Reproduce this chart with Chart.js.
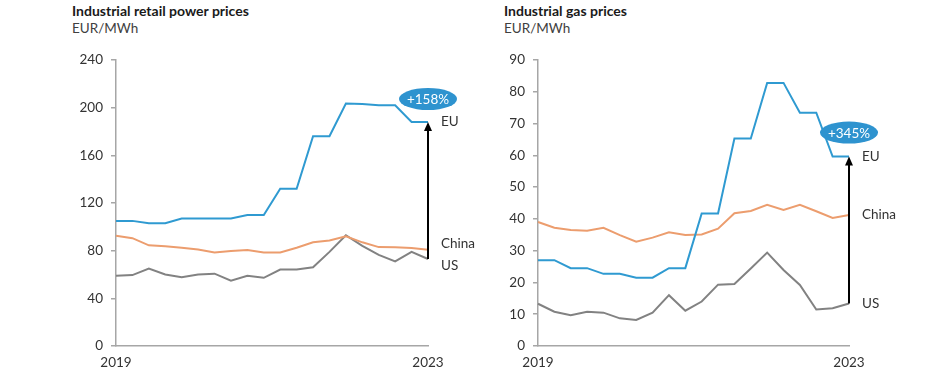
<!DOCTYPE html>
<html><head><meta charset="utf-8">
<script src="https://cdn.jsdelivr.net/npm/chart.js@4"></script>
<style>
html,body{margin:0;padding:0;background:#fff;width:945px;height:376px;overflow:hidden;font-family:Lato,"Open Sans",sans-serif;}
.t{position:absolute;font-size:14px;color:#1a1a1a;font-weight:bold;white-space:nowrap;}
.u{position:absolute;font-size:13.5px;color:#404040;white-space:nowrap;}
#c1{position:absolute;left:0;top:0;}
#c2{position:absolute;left:472px;top:0;}
</style></head><body>
<div class="t" style="left:72px;top:2px">Industrial retail power prices</div>
<div class="u" style="left:72px;top:20px">EUR/MWh</div>
<div class="t" style="left:504px;top:2px">Industrial gas prices</div>
<div class="u" style="left:504px;top:20px">EUR/MWh</div>
<canvas id="c1" width="500" height="376"></canvas>
<canvas id="c2" width="473" height="376"></canvas>
<script>
// 20 quarterly observations, 2019 .. 2023
const categories = ['2019','','','','','','','','','','','','','','','','','','','2023'];

// Industrial retail power prices, EUR/MWh
const powerEU    = [105,105,103,103,107,107,107,107,110,110,132,132,176,176,203.5,203,202,202,188,188];
const powerChina = [92.5,90.5,84.5,83.8,82.5,81,78.5,79.8,80.5,78.5,78.5,82.5,87,88.5,92,87,83,82.8,82.2,80.8];
const powerUS    = [59,59.5,65,60,57.8,60,60.7,54.8,59,57.2,64.2,64.2,66,79,93,84,76.4,71,79,73];

// Industrial gas prices, EUR/MWh
const gasEU    = [27,27,24.5,24.5,22.7,22.7,21.5,21.5,24.5,24.5,41.7,41.7,65.3,65.3,82.8,82.8,73.4,73.4,59.6,59.6];
const gasChina = [39,37.2,36.5,36.3,37.2,34.9,32.8,34.1,35.8,34.9,35.1,36.9,41.8,42.5,44.4,42.8,44.4,42.4,40.3,41.2];
const gasUS    = [13.3,10.8,9.7,10.8,10.5,8.7,8.2,10.5,16,11.1,14,19.3,19.5,24.4,29.4,23.9,19.2,11.5,11.9,13.4];

const powerTicks = {min:0, max:240, step:40};
const gasTicks   = {min:0, max:90, step:10};

const seriesNames = ['EU','China','US'];
const colors = {EU:'#2F9AD1', China:'#EC9D6E', US:'#828282'};
const bubbleColor = '#2E93CF';
const textColor = '#333333';
const FONT = 'Lato, "Open Sans", sans-serif';

const annot = {
  id:'annot',
  afterDatasetsDraw(chart, args, opts){
    const ctx = chart.ctx, ca = chart.chartArea, ys = chart.scales.y;
    const ds = chart.data.datasets;
    const last = i => ds[i].data[ds[i].data.length-1];
    ctx.save();
    ctx.font = '13.5px ' + FONT;
    ctx.fillStyle = textColor;
    ctx.textAlign = 'left';
    ctx.textBaseline = 'middle';
    ds.forEach((d,i)=>{
      const y = ys.getPixelForValue(last(i)) + (opts.labelOffsets[i]||0);
      ctx.fillText(d.label, ca.right + 13, y);
    });
    const x = ca.right;
    const yFrom = ys.getPixelForValue(last(2));
    const yTo = ys.getPixelForValue(last(0));
    ctx.strokeStyle = '#000'; ctx.fillStyle = '#000'; ctx.lineWidth = 2;
    ctx.beginPath(); ctx.moveTo(x, yFrom); ctx.lineTo(x, yTo + 7); ctx.stroke();
    ctx.beginPath(); ctx.moveTo(x, yTo); ctx.lineTo(x-4, yTo+9); ctx.lineTo(x+4, yTo+9); ctx.closePath(); ctx.fill();
    const by = yTo + opts.bubbleDy;
    ctx.fillStyle = bubbleColor;
    ctx.beginPath(); ctx.ellipse(x, by, 29, 11, 0, 0, Math.PI*2); ctx.fill();
    ctx.fillStyle = '#fff';
    ctx.textAlign = 'center';
    ctx.font = '13.5px ' + FONT;
    ctx.fillText(opts.bubbleText, x, by+1);
    ctx.restore();
  }
};

function makeChart(id, series, ticks, yWidth, padRight, annOpts){
  const datasets = series.map((vals,i)=>({
    label: seriesNames[i], data: vals,
    borderColor: colors[seriesNames[i]], borderWidth: 2,
    pointRadius: 0, tension: 0, fill: false
  }));
  return new Chart(document.getElementById(id), {
    type:'line',
    data:{labels: categories, datasets},
    plugins:[annot],
    options:{
      responsive:false, animation:false,
      layout:{padding:{top:60,right:padRight,bottom:0,left:0}},
      plugins:{legend:{display:false}, tooltip:{enabled:false}, annot: annOpts},
      scales:{
        x:{
          type:'category', offset:false,
          grid:{display:false, drawTicks:false},
          border:{display:true, color:'#A6A6A6', width:1.5},
          ticks:{autoSkip:false, maxRotation:0, padding:9, color:textColor, font:{family:FONT, size:13.5}},
          afterFit(s){ s.height = 30; }
        },
        y:{
          min:ticks.min, max:ticks.max,
          grid:{display:true, drawOnChartArea:false, drawTicks:true, tickLength:5, color:'#A6A6A6', lineWidth:1.5},
          border:{display:true, color:'#A6A6A6', width:1.5},
          ticks:{stepSize:ticks.step, padding:8, color:textColor, font:{family:FONT, size:13.5}},
          afterFit(s){ s.width = yWidth; }
        }
      }
    }
  });
}

makeChart('c1', [powerEU, powerChina, powerUS], powerTicks, 116, 72,
  {labelOffsets:[0,-6,7], bubbleDy:-23, bubbleText:'+158%'});
makeChart('c2', [gasEU, gasChina, gasUS], gasTicks, 66, 96,
  {labelOffsets:[0,0,0], bubbleDy:-24, bubbleText:'+345%'});
</script>
</body></html>
